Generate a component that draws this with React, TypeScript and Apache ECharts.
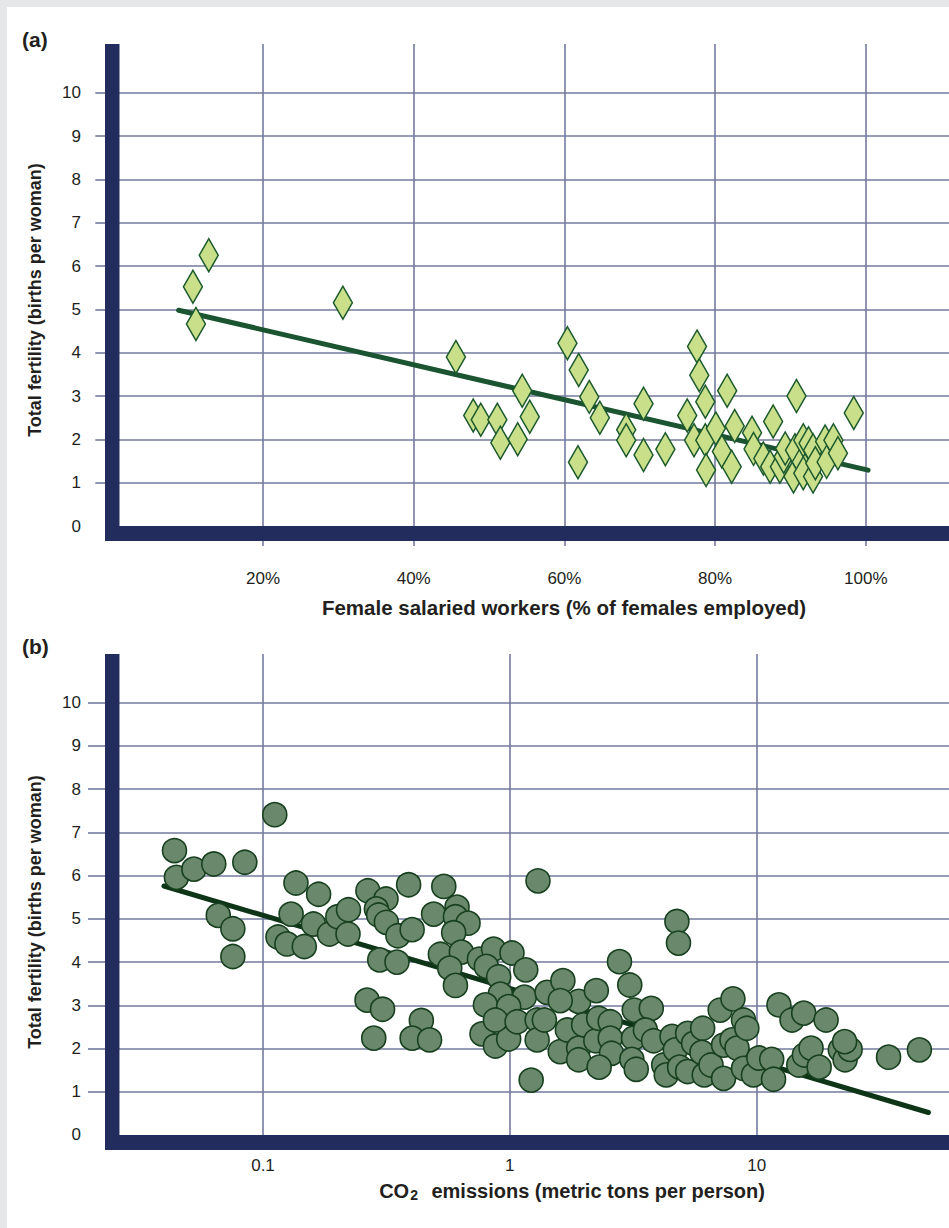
import React, { useEffect, useRef } from "react";
import * as echarts from "echarts";

// ---------- tick values ----------
const pctTicks = [20, 40, 60, 80, 100];
const fertTicks = [1, 2, 3, 4, 5, 6, 7, 8, 9, 10];
const fertLabels = [0, 1, 2, 3, 4, 5, 6, 7, 8, 9, 10];
const co2Ticks = [0.1, 1, 10];

// ---------- panel (a): female salaried workers (%) vs fertility ----------
const salariedPct = [
  10.7, 11.1, 12.8, 30.6, 45.6, 47.9, 48.9, 51.1, 51.5, 53.8, 54.4, 55.4,
  60.4, 61.9, 61.8, 63.3, 64.7, 68.2, 68.2, 70.5, 70.5, 73.4, 76.3, 77.2,
  77.6, 77.9, 78.7, 78.7, 78.8, 80.1, 80.9, 81.6, 82.2, 82.6, 84.9, 85.1,
  86.4, 87.3, 87.7, 88.6, 89.1, 89.3, 90.4, 90.6, 90.8, 91.5, 91.7, 91.7,
  92.4, 93.0, 93.0, 93.3, 94.6, 94.8, 95.7, 96.3, 98.4,
];
const fertilityA = [
  5.52, 4.66, 6.25, 5.15, 3.9, 2.55, 2.45, 2.45, 1.92, 2.0, 3.12, 2.52,
  4.22, 3.6, 1.47, 2.98, 2.5, 2.22, 1.98, 2.82, 1.64, 1.77, 2.55, 1.98,
  4.14, 3.48, 2.87, 1.98, 1.29, 2.25, 1.72, 3.12, 1.37, 2.31, 2.15, 1.78,
  1.56, 1.37, 2.41, 1.37, 1.6, 1.79, 1.14, 1.75, 3.0, 1.48, 1.98, 1.22,
  1.91, 1.75, 1.14, 1.45, 1.95, 1.48, 1.98, 1.68, 2.61,
];
const trendAX = [8.8, 100.3];
const trendAY = [4.98, 1.29];

// ---------- panel (b): CO2 emissions (t/person) vs fertility ----------
const co2 = [
  0.0438, 0.0446, 0.0525, 0.0632, 0.0844, 0.1116, 0.0659, 0.0755, 0.0755,
  0.136, 0.168, 0.13, 0.16, 0.115, 0.125, 0.147, 0.186, 0.201, 0.222, 0.221,
  0.266, 0.315, 0.288, 0.294, 0.316, 0.352, 0.402, 0.389, 0.297, 0.349,
  0.491, 0.54, 0.611, 0.602, 0.677, 0.592, 0.523, 0.636, 0.753, 0.571, 0.602,
  0.859, 1.02, 0.803, 0.901, 1.16, 0.915, 0.796, 1.145, 0.989, 1.415,
  0.771, 0.874, 0.989, 0.874, 1.07, 1.29, 1.29, 1.22,
  0.264, 0.305, 0.281, 0.438, 0.402, 0.473,
  1.3, 1.64, 1.9, 1.6, 2.24, 2.78, 3.06, 4.75, 4.82, 3.19, 3.74,
  1.38, 1.6, 1.71, 1.9, 1.9, 1.99, 2.23, 2.29, 2.55, 2.55, 2.58, 2.3,
  3.17, 3.12, 3.25, 3.54, 3.82, 4.2, 4.3, 4.54, 4.68, 4.87, 5.25, 5.25, 5.55,
  6.04, 6.0, 6.13, 6.53,
  7.11, 8.01, 7.34, 7.94, 8.32, 7.34, 8.84, 9.12, 8.84, 9.7, 10.2, 11.5, 11.7,
  12.3, 13.9, 15.5, 19.1, 14.8, 15.6, 16.6, 17.9, 21.8, 22.8, 23.9, 22.7,
  34.2, 45.6,
];
const fertilityB = [
  6.58, 5.96, 6.15, 6.27, 6.31, 7.41, 5.08, 4.77, 4.13,
  5.83, 5.57, 5.11, 4.88, 4.58, 4.42, 4.36, 4.65, 5.05, 5.21, 4.65,
  5.65, 5.46, 5.23, 5.09, 4.92, 4.61, 4.75, 5.79, 4.05, 4.0,
  5.11, 5.75, 5.27, 5.05, 4.9, 4.68, 4.18, 4.23, 4.07, 3.86, 3.46,
  4.3, 4.21, 3.9, 3.66, 3.82, 3.26, 3.01, 3.19, 2.97, 3.3,
  2.34, 2.06, 2.22, 2.66, 2.62, 2.66, 2.2, 1.27,
  3.12, 2.91, 2.24, 2.65, 2.24, 2.2,
  5.88, 3.57, 3.09, 3.11, 3.34, 4.01, 3.47, 4.94, 4.44, 2.89, 2.93,
  2.66, 1.93, 2.43, 2.01, 1.74, 2.55, 2.18, 2.7, 2.62, 2.24, 1.89, 1.57,
  2.24, 1.75, 1.52, 2.43, 2.18, 1.62, 1.39, 2.28, 1.97, 1.57, 1.47, 2.35, 2.12,
  2.47, 1.91, 1.39, 1.62,
  2.89, 3.15, 2.08, 2.2, 2.01, 1.31, 2.66, 2.47, 1.54, 1.39, 1.78, 1.75, 1.29,
  3.01, 2.66, 2.82, 2.66, 1.62, 1.85, 2.01, 1.57, 1.97, 1.74, 1.98, 2.16,
  1.8, 1.97,
];
const trendBX = [0.0397, 49.6];
const trendBY = [5.76, 0.52];

// ---------- styling / layout ----------
const FONT = '"Liberation Sans", Arial, Helvetica, sans-serif';
const GRID_COLOR = "#747b9e";
const NAVY = "#222d5e";
const TEXT = "#231f20";

const A = { xMin: -0.969, xMax: 111.04, yMin: -0.346, yMax: 11.124, barX: 0.955 };
const B = { xMin: 0.02291, xMax: 60.1, yMin: -0.347, yMax: 11.127, barX: 0.02622 };

const zip = (xs: number[], ys: number[]) => xs.map((x, i) => [x, ys[i]]);

const gridLine = { show: true, lineStyle: { color: GRID_COLOR, width: 1.6 } };

function yAxisFor(gridIndex: number, r: typeof A, padRight: number) {
  return {
    type: "value",
    gridIndex,
    min: r.yMin,
    max: r.yMax,
    position: "left",
    axisLine: { show: false },
    axisTick: {
      show: true,
      customValues: fertTicks,
      length: 17,
      lineStyle: { color: GRID_COLOR, width: 1.6 },
    },
    axisLabel: {
      customValues: fertLabels,
      margin: 24,
      fontSize: 17,
      color: TEXT,
      fontFamily: FONT,
      formatter: (v: number) => String(Math.round(v)),
    },
    splitLine: gridLine,
    name: "Total fertility (births per woman)",
    nameLocation: "middle",
    nameRotate: 90,
    nameGap: 61,
    nameTextStyle: {
      fontSize: 18,
      fontWeight: "bold",
      color: TEXT,
      fontFamily: FONT,
      padding: [0, padRight, 0, 0],
    },
  };
}

function bars(r: typeof A) {
  return {
    silent: true,
    itemStyle: { color: NAVY, opacity: 1, borderWidth: 0 },
    label: { show: false },
    emphasis: { disabled: true },
    data: [
      [{ xAxis: r.xMin, yAxis: r.yMin }, { xAxis: r.barX, yAxis: r.yMax }],
      [{ xAxis: r.xMin, yAxis: r.yMin }, { xAxis: r.xMax, yAxis: 0 }],
    ],
  };
}

const option = {
  animation: false,
  backgroundColor: "transparent",
  title: [
    { text: "(a)", left: 22, top: 29, padding: 0, textStyle: { fontSize: 21, fontWeight: "bold", color: TEXT, fontFamily: FONT } },
    { text: "(b)", left: 22, top: 636, padding: 0, textStyle: { fontSize: 21, fontWeight: "bold", color: TEXT, fontFamily: FONT } },
  ],
  grid: [
    { left: 105, right: 0, top: 44, height: 497, containLabel: false, outerBoundsMode: "none" },
    { left: 105, right: 0, top: 654, height: 496, containLabel: false, outerBoundsMode: "none" },
  ],
  xAxis: [
    {
      type: "value",
      gridIndex: 0,
      min: A.xMin,
      max: A.xMax,
      position: "bottom",
      axisLine: { show: false },
      axisTick: { show: true, customValues: pctTicks, length: 20, lineStyle: { color: GRID_COLOR, width: 1.6 } },
      axisLabel: {
        customValues: pctTicks,
        margin: 29,
        fontSize: 17,
        color: TEXT,
        fontFamily: FONT,
        formatter: (v: number) => Math.round(v) + "%",
      },
      splitLine: gridLine,
      name: "Female salaried workers (% of females employed)",
      nameLocation: "middle",
      nameGap: 56,
      nameTextStyle: {
        fontSize: 20.5,
        fontWeight: "bold",
        color: TEXT,
        fontFamily: FONT,
        padding: [0, 0, 0, 74],
      },
    },
    {
      type: "log",
      logBase: 10,
      gridIndex: 1,
      min: B.xMin,
      max: B.xMax,
      position: "bottom",
      axisLine: { show: false },
      axisTick: { show: true, customValues: co2Ticks, length: 6, lineStyle: { color: GRID_COLOR, width: 1.6 } },
      axisLabel: {
        customValues: co2Ticks,
        margin: 7,
        fontSize: 17,
        color: TEXT,
        fontFamily: FONT,
        formatter: (v: number) => String(+v.toPrecision(3)),
      },
      splitLine: gridLine,
      name: "{a|CO}{s|2}{a| emissions (metric tons per person)}",
      nameLocation: "middle",
      nameGap: 29,
      nameTextStyle: {
        padding: [0, 0, 0, 90],
        rich: {
          a: { fontSize: 20, fontWeight: "bold", color: TEXT, fontFamily: FONT },
          s: { fontSize: 14, fontWeight: "bold", color: TEXT, fontFamily: FONT, padding: [9, 8, 0, 1] },
        },
      },
    },
  ],
  yAxis: [yAxisFor(0, A, 15), yAxisFor(1, B, 20)],
  series: [
    {
      type: "line",
      xAxisIndex: 0,
      yAxisIndex: 0,
      data: zip(trendAX, trendAY),
      symbol: "none",
      silent: true,
      lineStyle: { color: "#1b5430", width: 5, cap: "round" },
      markArea: bars(A),
      z: 2,
    },
    {
      type: "scatter",
      xAxisIndex: 0,
      yAxisIndex: 0,
      data: zip(salariedPct, fertilityA),
      symbol: "diamond",
      symbolSize: [19, 33],
      itemStyle: { color: "#c9df8a", borderColor: "#1d5a2d", borderWidth: 1.6, opacity: 1 },
      z: 3,
    },
    {
      type: "line",
      xAxisIndex: 1,
      yAxisIndex: 1,
      data: zip(trendBX, trendBY),
      symbol: "none",
      silent: true,
      lineStyle: { color: "#0f3518", width: 5, cap: "round" },
      markArea: bars(B),
      z: 2,
    },
    {
      type: "scatter",
      xAxisIndex: 1,
      yAxisIndex: 1,
      data: zip(co2, fertilityB),
      symbol: "circle",
      symbolSize: 24,
      itemStyle: { color: "#6a886b", borderColor: "#17401f", borderWidth: 1.6, opacity: 1 },
      z: 3,
    },
  ],
};

export default function App() {
  const ref = useRef<HTMLDivElement>(null);
  useEffect(() => {
    if (!ref.current) return;
    const chart = echarts.init(ref.current, null, { renderer: "svg", width: 949, height: 1228 });
    chart.setOption(option as any);
    return () => chart.dispose();
  }, []);
  return (
    <div style={{ position: "absolute", left: 0, top: 0, width: 949, height: 1228, background: "#e6e7e9", overflow: "hidden" }}>
      <div style={{ position: "absolute", left: 7, top: 7, width: 942, height: 1221, background: "#ffffff" }} />
      <div ref={ref} style={{ position: "absolute", left: 0, top: 0, width: 949, height: 1228 }} />
    </div>
  );
}
